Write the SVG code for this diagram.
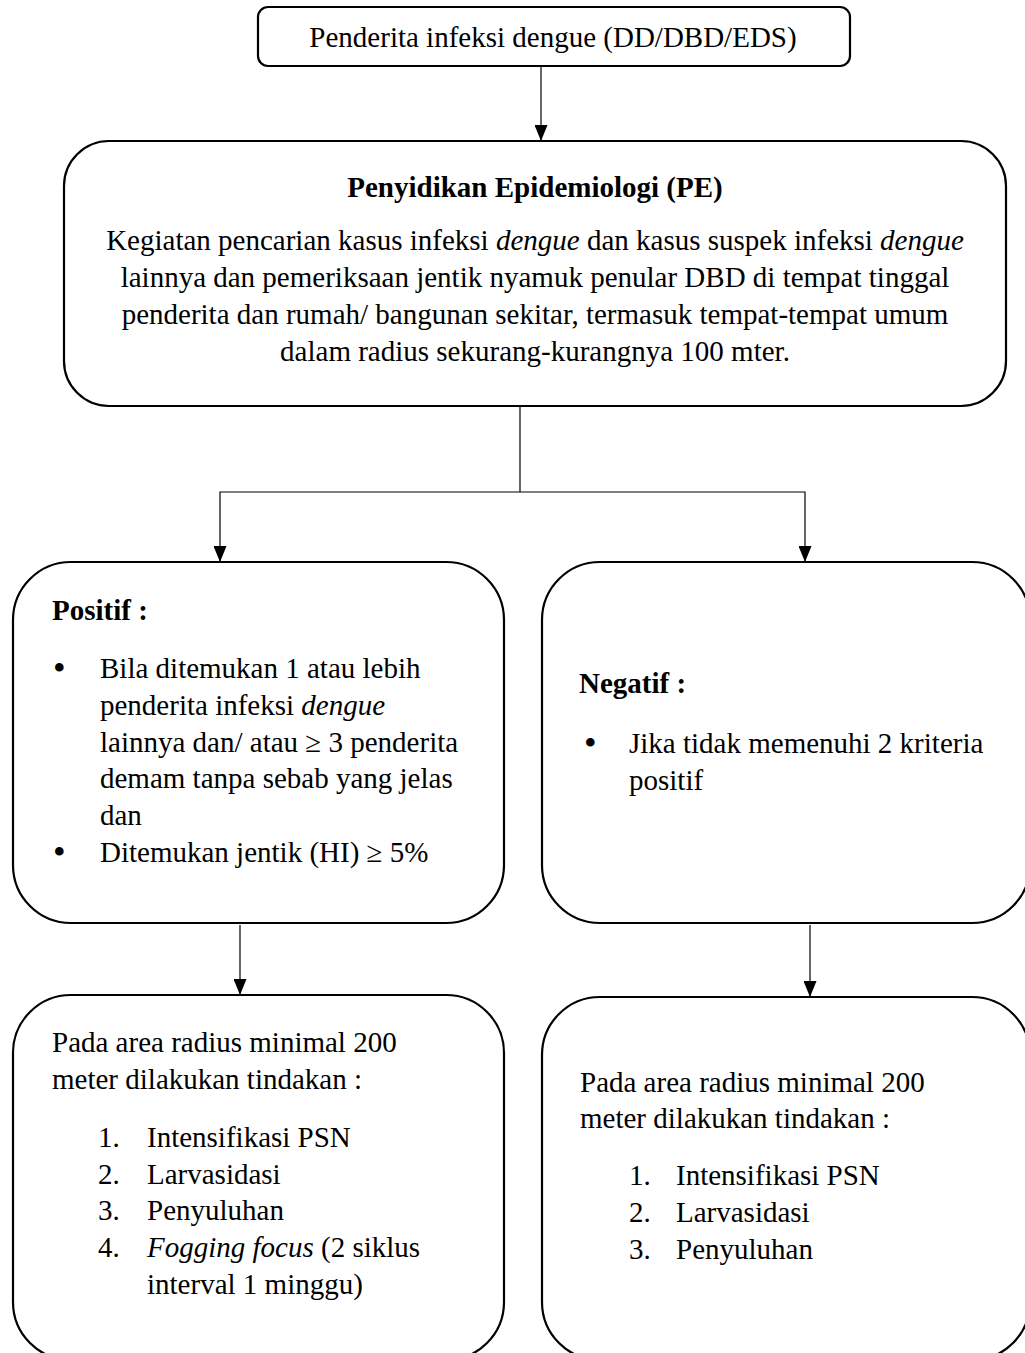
<svg xmlns="http://www.w3.org/2000/svg" width="1025" height="1353" viewBox="0 0 1025 1353">
<defs>
<style>
.box{fill:#fff;stroke:#000;stroke-width:2.2}
.t{font-family:"Liberation Serif","Times New Roman",serif;font-size:29px;fill:#000}
.c{text-anchor:middle}
.b{font-weight:bold}
.i{font-style:italic}
.bu{font-size:36px}
.ln{fill:none;stroke:#000;stroke-width:1.2}
</style>
<marker id="ah" viewBox="0 0 16 13" refX="16" refY="6.5" markerWidth="16" markerHeight="13" markerUnits="userSpaceOnUse" orient="auto-start-reverse">
<path d="M0,0 L16,6.5 L0,13 Z" fill="#000"/>
</marker>
</defs>
<rect width="1025" height="1353" fill="#fff"/>
<g id="connectors">
<line class="ln" x1="541" y1="66" x2="541" y2="141" marker-end="url(#ah)"/>
<polyline class="ln" points="520,406 520,492"/>
<polyline class="ln" points="220,562 220,492 805,492 805,562" marker-start="url(#ah)" marker-end="url(#ah)"/>
<line class="ln" x1="240" y1="925" x2="240" y2="995" marker-end="url(#ah)"/>
<line class="ln" x1="810" y1="925" x2="810" y2="997" marker-end="url(#ah)"/>
</g>
<g id="n1">
<rect class="box" x="258" y="7" width="592" height="59" rx="10"/>
<text class="t c" x="553" y="47">Penderita infeksi dengue (DD/DBD/EDS)</text>
</g>
<g id="n2">
<rect class="box" x="64" y="141" width="942" height="265" rx="45"/>
<text class="t c b" x="535" y="197">Penyidikan Epidemiologi (PE)</text>
<text class="t c" x="535" y="250">Kegiatan pencarian kasus infeksi <tspan class="i">dengue</tspan> dan kasus suspek infeksi <tspan class="i">dengue</tspan></text>
<text class="t c" x="535" y="287">lainnya dan pemeriksaan jentik nyamuk penular DBD di tempat tinggal</text>
<text class="t c" x="535" y="324">penderita dan rumah/ bangunan sekitar, termasuk tempat-tempat umum</text>
<text class="t c" x="535" y="361">dalam radius sekurang-kurangnya 100 mter.</text>
</g>
<g id="n3">
<rect class="box" x="13" y="562" width="491" height="361" rx="58"/>
<text class="t b" x="52" y="620">Positif :</text>
<text class="t bu" x="53" y="680">•</text>
<text class="t" x="100" y="678">Bila ditemukan 1 atau lebih</text>
<text class="t" x="100" y="715">penderita infeksi <tspan class="i">dengue</tspan></text>
<text class="t" x="100" y="752">lainnya dan/ atau ≥ 3 penderita</text>
<text class="t" x="100" y="788">demam tanpa sebab yang jelas</text>
<text class="t" x="100" y="825">dan</text>
<text class="t bu" x="53" y="864">•</text>
<text class="t" x="100" y="862">Ditemukan jentik (HI) ≥ 5%</text>
</g>
<g id="n4">
<rect class="box" x="542" y="562" width="488" height="361" rx="58"/>
<text class="t b" x="579" y="693">Negatif :</text>
<text class="t bu" x="584" y="755">•</text>
<text class="t" x="629" y="753">Jika tidak memenuhi 2 kriteria</text>
<text class="t" x="629" y="790">positif</text>
</g>
<g id="n5">
<rect class="box" x="13" y="995" width="491" height="365" rx="58"/>
<text class="t" x="52" y="1052">Pada area radius minimal 200</text>
<text class="t" x="52" y="1089">meter dilakukan tindakan :</text>
<text class="t" x="98" y="1147">1.</text><text class="t" x="147" y="1147">Intensifikasi PSN</text>
<text class="t" x="98" y="1184">2.</text><text class="t" x="147" y="1184">Larvasidasi</text>
<text class="t" x="98" y="1220">3.</text><text class="t" x="147" y="1220">Penyuluhan</text>
<text class="t" x="98" y="1257">4.</text><text class="t" x="147" y="1257"><tspan class="i">Fogging focus</tspan> (2 siklus</text>
<text class="t" x="147" y="1294">interval 1 minggu)</text>
</g>
<g id="n6">
<rect class="box" x="542" y="997" width="488" height="363" rx="58"/>
<text class="t" x="580" y="1092">Pada area radius minimal 200</text>
<text class="t" x="580" y="1128">meter dilakukan tindakan :</text>
<text class="t" x="629" y="1185">1.</text><text class="t" x="676" y="1185">Intensifikasi PSN</text>
<text class="t" x="629" y="1222">2.</text><text class="t" x="676" y="1222">Larvasidasi</text>
<text class="t" x="629" y="1259">3.</text><text class="t" x="676" y="1259">Penyuluhan</text>
</g>
</svg>
